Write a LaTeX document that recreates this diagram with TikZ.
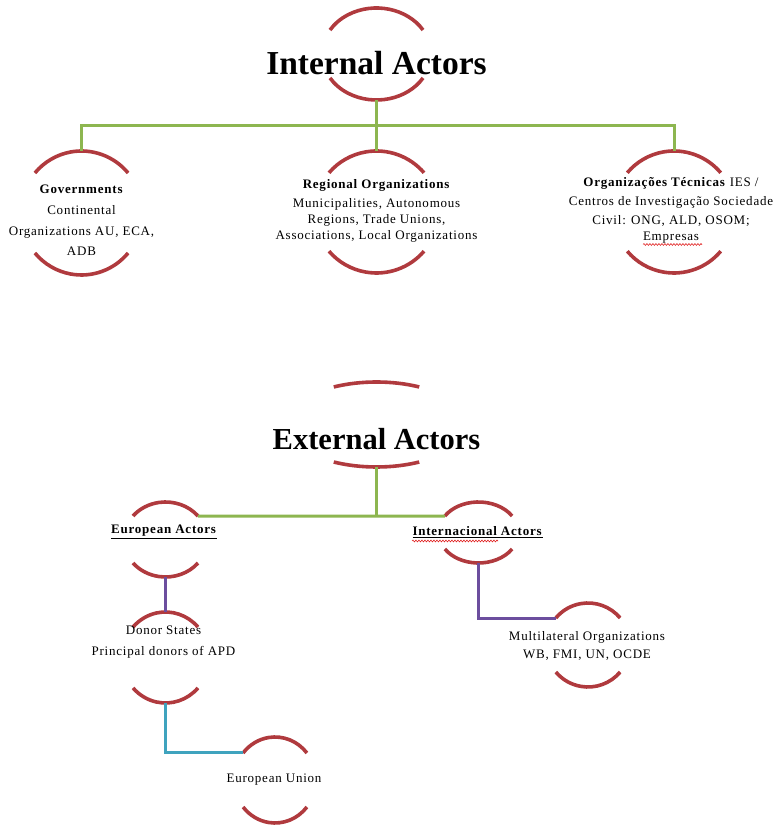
\documentclass[tikz,border=0pt]{standalone}
\usepackage{fontspec}
\setmainfont{Liberation Serif}
\newfontfamily\lsfont[LetterSpace=6]{Liberation Serif}
\usetikzlibrary{calc,decorations.pathmorphing}
\definecolor{arcred}{HTML}{B03A3E}
\definecolor{lgreen}{HTML}{8DB650}
\definecolor{lpurple}{HTML}{6C4E9E}
\definecolor{lteal}{HTML}{3FA3BE}
\definecolor{spellred}{HTML}{E02020}
\tikzset{
  ringarc/.style={draw=arcred, line width=3.6pt},
  greenline/.style={draw=lgreen, line width=3pt},
  purpleline/.style={draw=lpurple, line width=3pt},
  tealline/.style={draw=lteal, line width=3pt},
  txt/.style={inner sep=0pt, align=center, font=\lsfont\fontsize{13}{20.5}\selectfont},
  titletxt/.style={inner sep=0pt, anchor=base, font=\bfseries\fontsize{33.5}{40}\selectfont},
  spell/.style={draw=spellred, line width=0.6pt, decorate, decoration={snake, amplitude=0.9pt, segment length=3pt}}
}
\newcommand\ringpair[6]{%
  \coordinate (#1) at (#2,825-#3);
  \coordinate (#1T) at (#2,825-#3+#5);
  \coordinate (#1B) at (#2,825-#3-#5);
  \coordinate (#1l) at ($(#1)+(180-#6:#4 and #5)$);
  \coordinate (#1r) at ($(#1)+(#6:#4 and #5)$);
  \draw[ringarc] (#1r) arc[start angle=#6, end angle=180-#6, x radius=#4, y radius=#5];
  \draw[ringarc] ($(#1)+(-#6:#4 and #5)$) arc[start angle=-#6, end angle=-180+#6, x radius=#4, y radius=#5];
}
\begin{document}
\begin{tikzpicture}[x=1pt,y=1pt]
\useasboundingbox (0,0) rectangle (778,825);
% rings
\ringpair{TI}{376.5}{54}{54.5}{46}{31.4}
\ringpair{TE}{376.5}{424.5}{91}{42.5}{62}
\ringpair{G}{81.5}{213}{61}{62}{40.2}
\ringpair{R}{376.5}{212}{62}{61}{40}
\ringpair{O}{674}{212}{61}{61}{40}
\ringpair{EA}{165.5}{539.5}{41.7}{37.5}{38.8}
\ringpair{IA}{478.5}{532.5}{40}{30.5}{32.7}
\ringpair{DS}{165.5}{657.5}{43.7}{45.5}{42}
\ringpair{MO}{588}{645}{42}{42}{40}
\ringpair{EU}{275}{780}{41}{43}{38.9}
% titles
\node[titletxt] (TItxt) at (376.5,825-75) {Internal Actors};
\node[titletxt, font=\bfseries\fontsize{30.5}{36}\selectfont] (TEtxt) at (376.5,825-450) {External Actors};
% internal texts
\node[txt] (Gtxt) at (81.5,825-220) {\textbf{Governments}\\[1pt]Continental\\Organizations AU, ECA,\\ADB};
\node[txt, font=\lsfont\fontsize{13}{16}\selectfont] (Rtxt) at (376.5,825-211) {\textbf{Regional Organizations}\\[3pt]Municipalities, Autonomous\\Regions, Trade Unions,\\Associations, Local Organizations};
\node[txt, font=\lsfont\fontsize{13}{19}\selectfont] (Otxt) at (671,825-210.5) {\textbf{Organizações Técnicas} IES /\\Centros de Investigação Sociedade\\Civil: ONG, ALD, OSOM;\\[-3pt]Empresas};
% external texts
\node[txt] (EAtxt) at (164,825-532) {\underline{\textbf{European Actors}}};
\node[txt] (IAtxt) at (477.5,825-532) {\underline{\textbf{Internacional Actors}}};
\node[txt, font=\lsfont\fontsize{13}{21}\selectfont] (DStxt) at (163.5,825-642.5) {Donor States\\Principal donors of APD};
\node[txt, font=\lsfont\fontsize{13}{18.5}\selectfont] (MOtxt) at (587,825-646) {Multilateral Organizations\\WB, FMI, UN, OCDE};
\node[txt] (EUtxt) at (274,825-780) {European Union};
% spell-check marks
\draw[spell] (643,825-244.5) -- (702,825-244.5);
\draw[spell] (412,825-541) -- (498,825-541);
% connectors internal
\coordinate (busI) at (376.5,825-126);
\draw[greenline] (TIB) -- (busI);
\draw[greenline] (GT) |- (busI) -| (OT);
\draw[greenline] (RT) -- (busI);
% connectors external
\draw[greenline] (EAr) -- (IAl);
\draw[greenline] (TEB) -- (TEB |- EAr);
\draw[purpleline] (EAB) -- (DST);
\draw[purpleline] (IAB) |- (MOl);
\draw[tealline] (DSB) |- (EUl);
\end{tikzpicture}
\end{document}
